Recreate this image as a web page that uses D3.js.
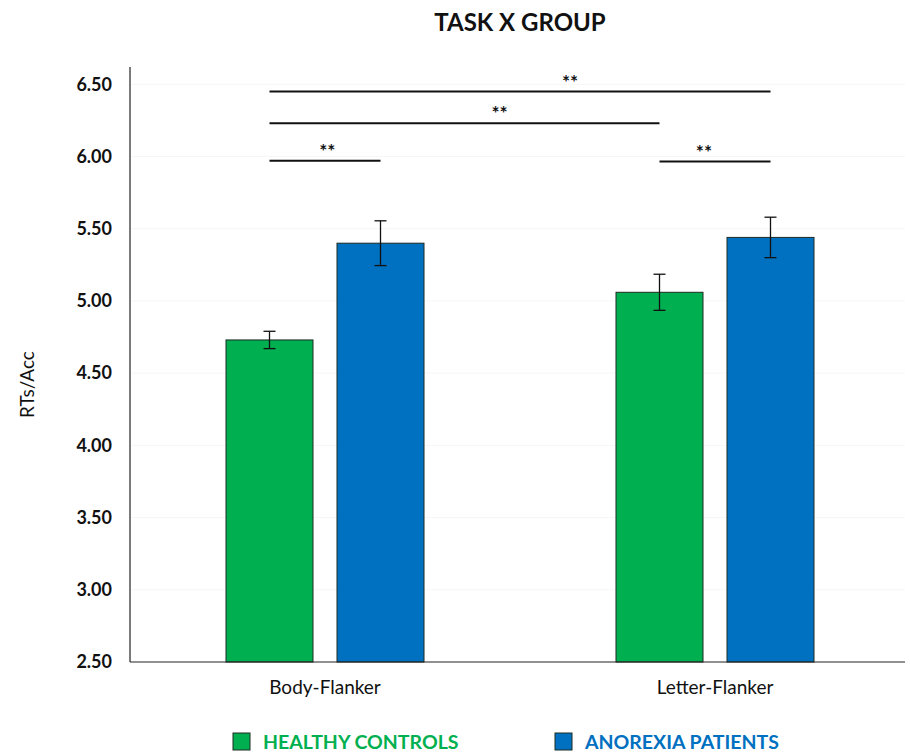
<!DOCTYPE html>
<html>
<head>
<meta charset="utf-8">
<script src="https://cdn.jsdelivr.net/npm/d3@7"></script>
<style>
  body { margin: 0; background: #fff; }
  svg { display: block; font-family: Lato, "Open Sans", sans-serif; }
</style>
</head>
<body>
<svg id="viz"></svg>
<script>
const svg = d3.select("#viz");

// data
const tasks = ["Body-Flanker", "Letter-Flanker"];
const groups = ["HEALTHY CONTROLS", "ANOREXIA PATIENTS"];
const colors = ["#00b050", "#0070c0"];
const healthy = [4.73, 5.06];
const healthyErr = [0.06, 0.125];
const anorexia = [5.40, 5.44];
const anorexiaErr = [0.155, 0.14];
const yTicks = [2.5, 3.0, 3.5, 4.0, 4.5, 5.0, 5.5, 6.0, 6.5];

// significance brackets: [task, group] -> [task, group], height, label, where the stars sit along the line
const sig = [
  { from: [0, 0], to: [1, 1], y: 6.45, label: "**", at: 0.6 },
  { from: [0, 0], to: [1, 0], y: 6.23, label: "**", at: 0.59 },
  { from: [0, 0], to: [0, 1], y: 5.97, label: "**", at: 0.52 },
  { from: [1, 0], to: [1, 1], y: 5.965, label: "**", at: 0.4 }
];

const W = 910, H = 753;
svg.attr("width", W).attr("height", H);

const margin = { left: 130, right: 0, top: 67, bottom: 91 };

const x = d3.scaleBand()
  .domain(tasks)
  .range([margin.left, W - margin.right])
  .paddingInner(0).paddingOuter(0);

const xg = d3.scalePoint()
  .domain(groups)
  .range([-55.5, 55.5]);

const barW = 87;

const y = d3.scaleLinear()
  .domain([2.5, 6.62])
  .range([H - margin.bottom, margin.top]);

// faint gridlines
svg.append("g")
  .selectAll("line")
  .data(yTicks.slice(1))
  .enter()
  .append("line")
  .attr("x1", margin.left)
  .attr("x2", W - 5)
  .attr("y1", d => y(d))
  .attr("y2", d => y(d))
  .attr("stroke", "#f6f6f6")
  .attr("stroke-width", 1);

// bars
const rows = [];
tasks.forEach((t, i) => {
  rows.push({ task: t, group: groups[0], v: healthy[i], e: healthyErr[i], c: colors[0] });
  rows.push({ task: t, group: groups[1], v: anorexia[i], e: anorexiaErr[i], c: colors[1] });
});

const cx = d => x(d.task) + x.bandwidth() / 2 + xg(d.group);

svg.append("g")
  .selectAll("rect")
  .data(rows)
  .enter()
  .append("rect")
  .attr("x", d => cx(d) - barW / 2)
  .attr("y", d => y(d.v))
  .attr("width", barW)
  .attr("height", d => y(2.5) - y(d.v))
  .attr("fill", d => d.c)
  .attr("stroke", "#1e2a22")
  .attr("stroke-width", 1);

// error bars
const eb = svg.append("g").attr("stroke", "#111").attr("stroke-width", 1.3);
rows.forEach(d => {
  const xc = cx(d);
  eb.append("line").attr("x1", xc).attr("x2", xc).attr("y1", y(d.v + d.e)).attr("y2", y(d.v - d.e));
  eb.append("line").attr("x1", xc - 6).attr("x2", xc + 6).attr("y1", y(d.v + d.e)).attr("y2", y(d.v + d.e));
  eb.append("line").attr("x1", xc - 6).attr("x2", xc + 6).attr("y1", y(d.v - d.e)).attr("y2", y(d.v - d.e));
});

// axes
const yAxis = svg.append("g")
  .attr("transform", `translate(${margin.left},0)`)
  .call(d3.axisLeft(y).tickValues(yTicks).tickFormat(d3.format(".2f")).tickSize(0).tickPadding(18));
yAxis.select(".domain").remove();
yAxis.selectAll("text")
  .attr("font-size", 18)
  .attr("font-weight", "bold")
  .attr("fill", "#111")
  .attr("font-family", "Lato, sans-serif");

svg.append("line")
  .attr("x1", margin.left).attr("x2", margin.left)
  .attr("y1", margin.top).attr("y2", y(2.5))
  .attr("stroke", "#222").attr("stroke-width", 1.2);
svg.append("line")
  .attr("x1", margin.left).attr("x2", W - 5)
  .attr("y1", y(2.5)).attr("y2", y(2.5))
  .attr("stroke", "#222").attr("stroke-width", 1.2);

const xAxis = svg.append("g")
  .attr("transform", `translate(0,${y(2.5)})`)
  .call(d3.axisBottom(x).tickSize(0).tickPadding(19));
xAxis.select(".domain").remove();
xAxis.selectAll("text")
  .attr("font-size", 19)
  .attr("fill", "#111")
  .attr("font-family", "Lato, sans-serif");

// y label
svg.append("text")
  .attr("transform", `translate(34,${(margin.top + y(2.5)) / 2 + 20}) rotate(-90)`)
  .attr("text-anchor", "middle")
  .attr("font-size", 19)
  .attr("fill", "#111")
  .text("RTs/Acc");

// title
svg.append("text")
  .attr("x", 520)
  .attr("y", 31)
  .attr("text-anchor", "middle")
  .attr("font-size", 24)
  .attr("font-weight", "bold")
  .attr("fill", "#111")
  .text("TASK X GROUP");

// significance lines
const sx = p => x(tasks[p[0]]) + x.bandwidth() / 2 + xg(groups[p[1]]);
const sg = svg.append("g");
sig.forEach(s => {
  const x1 = sx(s.from), x2 = sx(s.to);
  sg.append("line")
    .attr("x1", x1).attr("x2", x2)
    .attr("y1", y(s.y)).attr("y2", y(s.y))
    .attr("stroke", "#111").attr("stroke-width", 2);
  sg.append("text")
    .attr("x", x1 + (x2 - x1) * s.at)
    .attr("y", y(s.y) - 3)
    .attr("text-anchor", "middle")
    .attr("font-size", 19)
    .attr("font-weight", "bold")
    .attr("fill", "#111")
    .text(s.label);
});

// legend
const legX = [233, 555];
const leg = svg.append("g");
groups.forEach((g, i) => {
  leg.append("rect")
    .attr("x", legX[i]).attr("y", 733)
    .attr("width", 17).attr("height", 17)
    .attr("fill", colors[i])
    .attr("stroke", "#1e2a22").attr("stroke-width", 1);
  leg.append("text")
    .attr("x", legX[i] + 30).attr("y", 749)
    .attr("font-size", 19.5)
    .attr("font-weight", "bold")
    .attr("fill", colors[i])
    .text(g);
});
</script>
</body>
</html>
